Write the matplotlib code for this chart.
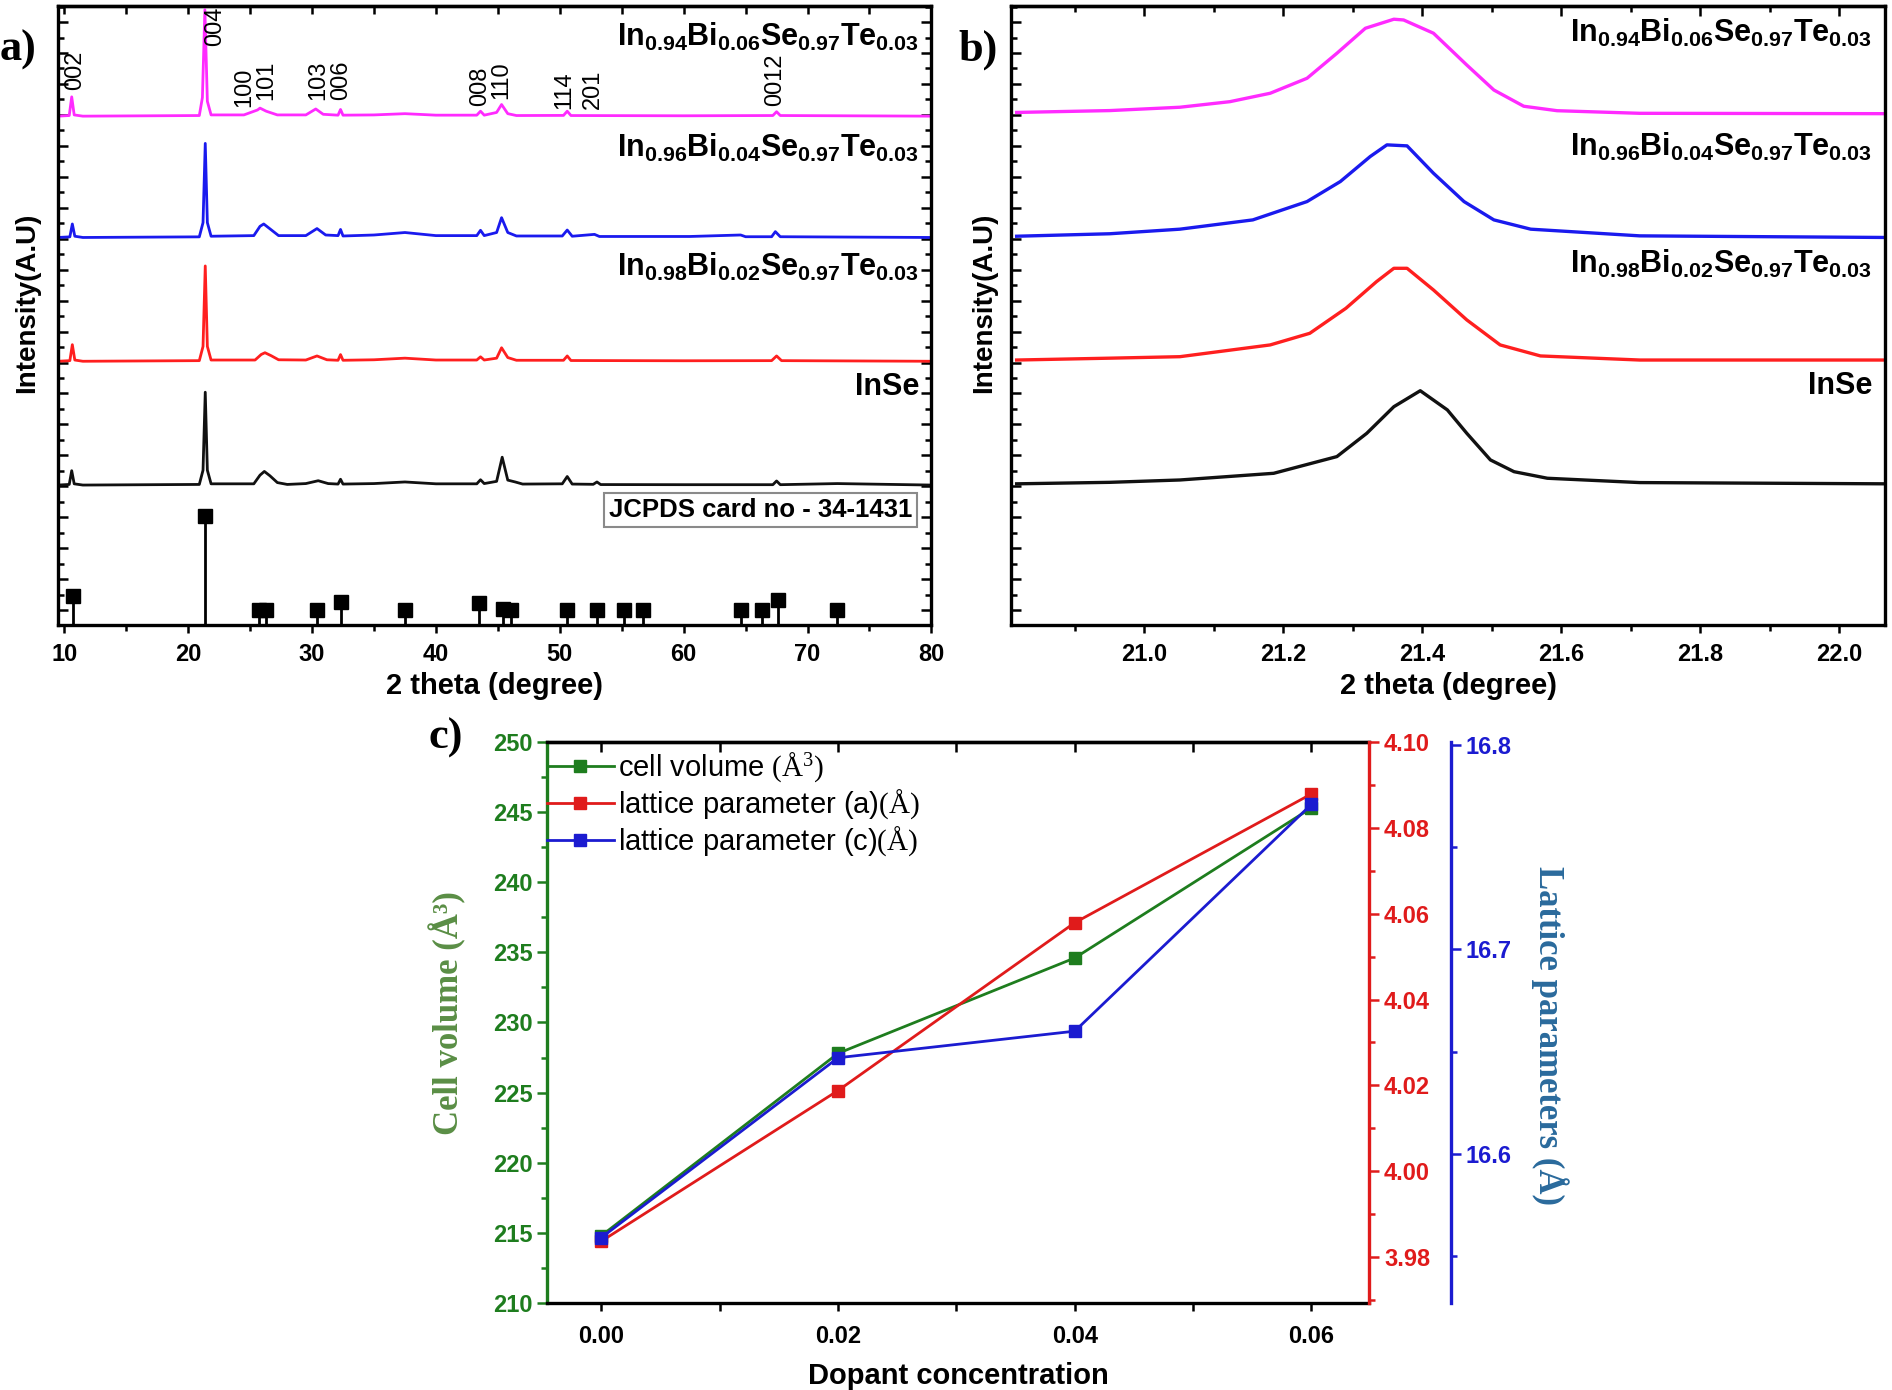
import numpy as np
import matplotlib
matplotlib.use("Agg")
import matplotlib.pyplot as plt
from matplotlib.ticker import MultipleLocator, FixedLocator

plt.rcParams['font.family'] = ['Liberation Sans', 'DejaVu Sans']
plt.rcParams['mathtext.fontset'] = 'custom'
plt.rcParams['mathtext.rm'] = 'Liberation Sans'
plt.rcParams['mathtext.bf'] = 'Liberation Sans:bold'
plt.rcParams['mathtext.sf'] = 'Liberation Serif'

# ---------------- data ----------------
sample_labels = [r'$\mathbf{In_{0.94}Bi_{0.06}Se_{0.97}Te_{0.03}}$',
                 r'$\mathbf{In_{0.96}Bi_{0.04}Se_{0.97}Te_{0.03}}$',
                 r'$\mathbf{In_{0.98}Bi_{0.02}Se_{0.97}Te_{0.03}}$',
                 'InSe']
sample_colors = ['#ff2bff', '#1a1aee', '#ff1f1f', '#111111']

# panel a: XRD patterns (2theta, intensity above own baseline)
tt_pink = [9.5, 10.4, 10.6, 10.8, 11.5, 20.9, 21.15, 21.35, 21.55, 21.85, 24.5, 25.6, 25.8, 26.3, 27.2,
           29.5, 30.3, 30.9, 32.1, 32.3, 32.5, 35, 37.5, 40, 43.3, 43.6, 43.9, 44.9, 45.3, 45.8, 46.5,
           50.3, 50.6, 50.9, 60, 67.2, 67.5, 67.8, 80]
i_pink = [0, 0.005, 0.156, 0.01, 0, 0.005, 0.15, 0.86, 0.12, 0.01, 0.01, 0.05, 0.065, 0.04, 0.01,
          0.01, 0.058, 0.015, 0.008, 0.054, 0.008, 0.01, 0.02, 0.008, 0.008, 0.04, 0.008, 0.03, 0.094, 0.02, 0.005,
          0.006, 0.04, 0.005, 0.003, 0.005, 0.036, 0.005, 0]

tt_blue = [9.5, 10.45, 10.65, 10.85, 11.5, 20.9, 21.2, 21.38, 21.55, 21.85, 25.3, 25.8, 26.1, 26.6, 27.3,
           29.5, 30.4, 31.1, 32.1, 32.3, 32.5, 35, 37.5, 40, 43.3, 43.6, 43.9, 44.9, 45.3, 45.8, 46.5,
           50.2, 50.6, 51, 52.8, 53.2, 60.5, 64.6, 65, 67.1, 67.4, 67.8, 80]
i_blue = [0, 0.005, 0.109, 0.01, 0, 0.005, 0.12, 0.76, 0.12, 0.01, 0.015, 0.09, 0.109, 0.07, 0.015,
          0.015, 0.072, 0.02, 0.015, 0.065, 0.012, 0.02, 0.04, 0.015, 0.015, 0.058, 0.015, 0.04, 0.16, 0.04, 0.012,
          0.012, 0.06, 0.01, 0.025, 0.008, 0.008, 0.02, 0.006, 0.006, 0.047, 0.006, 0]

tt_red = [9.5, 10.45, 10.65, 10.85, 11.5, 20.9, 21.2, 21.38, 21.55, 21.85, 25.4, 25.9, 26.2, 26.7, 27.3,
          29.5, 30.4, 31.2, 32.1, 32.3, 32.5, 35, 37.5, 40, 43.3, 43.6, 43.9, 44.9, 45.3, 45.8, 46.5,
          50.3, 50.6, 50.9, 60, 67.1, 67.5, 67.9, 80]
i_red = [0, 0.005, 0.134, 0.01, 0, 0.005, 0.12, 0.77, 0.12, 0.01, 0.01, 0.055, 0.069, 0.045, 0.012,
         0.01, 0.043, 0.012, 0.008, 0.054, 0.008, 0.012, 0.025, 0.01, 0.01, 0.036, 0.01, 0.025, 0.109, 0.03, 0.008,
         0.008, 0.043, 0.006, 0.004, 0.005, 0.043, 0.005, 0]

tt_black = [9.5, 10.4, 10.6, 10.8, 11.5, 20.9, 21.2, 21.38, 21.55, 21.85, 25.3, 25.8, 26.15, 26.6, 27.2, 28,
            29.5, 30.5, 31.3, 32.1, 32.3, 32.5, 35, 37.5, 40, 43.3, 43.6, 43.9, 44.9, 45.35, 45.8, 46.4, 47,
            50.2, 50.6, 51, 52.7, 53.0, 53.3, 60, 67.2, 67.5, 67.8, 72.4, 80]
i_black = [0, 0.005, 0.116, 0.01, 0, 0.005, 0.12, 0.75, 0.12, 0.01, 0.01, 0.08, 0.11, 0.075, 0.02, 0.005,
           0.012, 0.035, 0.012, 0.008, 0.047, 0.008, 0.012, 0.025, 0.01, 0.01, 0.043, 0.012, 0.03, 0.225, 0.04, 0.025, 0.008,
           0.01, 0.069, 0.008, 0.006, 0.025, 0.004, 0.003, 0.003, 0.033, 0.003, 0.012, 0]

offsets_a = [4.11, 3.13, 2.13, 1.13]

# JCPDS 34-1431 reference lines
jcpds_pos = [10.7, 21.35, 25.7, 26.3, 30.4, 32.3, 37.5, 43.5, 45.4, 46.1, 50.6, 53.0, 55.2, 56.7,
             64.6, 66.3, 67.6, 72.4]
jcpds_int = [0.234, 0.88, 0.124, 0.124, 0.124, 0.186, 0.124, 0.175, 0.13, 0.124, 0.124, 0.117, 0.117, 0.117,
             0.117, 0.117, 0.2, 0.117]

hkl_labels = ['002', '004', '100', '101', '103', '006', '008', '110', '114', '201', '0012']
hkl_pos = [10.87, 22.16, 24.5, 26.33, 30.47, 32.38, 43.55, 45.3, 50.4, 52.7, 67.4]
hkl_y = [4.32, 4.68, 4.18, 4.24, 4.24, 4.24, 4.19, 4.25, 4.17, 4.17, 4.19]

# panel b: zoom on the (004) peak
ttb_pink = [20.816, 20.95, 21.051, 21.123, 21.181, 21.234, 21.277, 21.318, 21.359, 21.373, 21.416,
            21.464, 21.503, 21.546, 21.594, 21.713, 22.066]
ib_pink = [0, 0.015, 0.042, 0.087, 0.155, 0.276, 0.478, 0.68, 0.753, 0.747, 0.64,
           0.383, 0.181, 0.05, 0.014, -0.007, -0.01]
ttb_blue = [20.816, 20.95, 21.051, 21.156, 21.234, 21.282, 21.325, 21.349, 21.378, 21.416, 21.46,
            21.503, 21.556, 21.713, 22.066]
ib_blue = [0, 0.02, 0.057, 0.132, 0.28, 0.442, 0.644, 0.738, 0.73, 0.509, 0.28,
           0.132, 0.057, 0.003, -0.01]
ttb_red = [20.816, 20.95, 21.051, 21.181, 21.238, 21.29, 21.334, 21.359, 21.378, 21.416, 21.464,
           21.512, 21.57, 21.713, 22.066]
ib_red = [0, 0.015, 0.027, 0.122, 0.216, 0.418, 0.633, 0.741, 0.741, 0.566, 0.324,
          0.122, 0.033, 0, 0]
ttb_black = [20.816, 20.95, 21.051, 21.186, 21.277, 21.32, 21.359, 21.397, 21.436, 21.464, 21.498,
             21.532, 21.58, 21.713, 22.066]
ib_black = [0, 0.012, 0.031, 0.085, 0.22, 0.408, 0.623, 0.752, 0.597, 0.408, 0.193,
            0.098, 0.045, 0.01, 0]
offsets_b = [4.14, 3.14, 2.14, 1.14]

# panel c: lattice data
dopant = [0.00, 0.02, 0.04, 0.06]
cell_volume = [214.8, 227.8, 234.6, 245.3]
lattice_a = [3.9837, 4.0188, 4.0579, 4.0879]
lattice_c = [16.559, 16.647, 16.660, 16.771]

# ---------------- figure ----------------
fig = plt.figure(figsize=(18.92, 13.90), dpi=100)


def style_stack(ax):
    for s in ax.spines.values():
        s.set_linewidth(2.4)
    ax.set_ylim(0, 5)
    ax.yaxis.set_major_locator(FixedLocator(np.arange(0.12, 5.0, 0.25)))
    ax.yaxis.set_minor_locator(FixedLocator(np.arange(0.245, 5.0, 0.25)))
    ax.tick_params(axis='y', which='both', direction='in', left=True, right=True,
                   labelleft=False, width=1.8)
    ax.tick_params(axis='y', which='major', length=7)
    ax.tick_params(axis='y', which='minor', length=4)
    ax.tick_params(axis='x', which='both', direction='out', width=1.8, labelsize=17, pad=7)
    ax.tick_params(axis='x', which='major', length=6)
    ax.tick_params(axis='x', which='minor', length=4)
    for lab in ax.get_xticklabels():
        lab.set_fontweight('bold')


# ---- panel a ----
axa = fig.add_axes([0.0307, 0.5504, 0.4616, 0.4453])
series_a = [(tt_pink, i_pink), (tt_blue, i_blue), (tt_red, i_red), (tt_black, i_black)]
for (tt, ii), off, col in zip(series_a, offsets_a, sample_colors):
    axa.plot(tt, np.array(ii) + off, color=col, lw=2)
ml, sl, bl = axa.stem(jcpds_pos, jcpds_int, linefmt='k-', markerfmt='ks', basefmt=' ')
ml.set_markersize(10)
sl.set_linewidth(2)
for lab, p, y in zip(hkl_labels, hkl_pos, hkl_y):
    axa.text(p, y, lab, rotation=90, ha='center', va='bottom', fontsize=17)
for lab, y in zip(sample_labels, [4.75, 3.85, 2.89, 1.92]):
    axa.text(0.986, y / 5, lab, transform=axa.transAxes, ha='right', va='center',
             fontsize=22, fontweight='bold')
axa.text(0.978, 0.186, 'JCPDS card no - 34-1431', transform=axa.transAxes, ha='right', va='center',
         fontsize=18.5, fontweight='bold',
         bbox=dict(boxstyle='square,pad=0.2', fc='white', ec='#8a8a8a', lw=1.5))
axa.set_xlim(9.5, 80)
axa.xaxis.set_major_locator(MultipleLocator(10))
axa.xaxis.set_minor_locator(MultipleLocator(5))
style_stack(axa)
top_a = axa.secondary_xaxis('top')
top_a.xaxis.set_major_locator(MultipleLocator(5))
top_a.tick_params(direction='in', length=6, width=1.8, labeltop=False)
top_a.spines['top'].set_linewidth(2.4)
axa.set_xlabel('2 theta (degree)', fontsize=21, fontweight='bold', labelpad=4)
axa.set_ylabel('Intensity(A.U)', fontsize=20, fontweight='bold')
axa.yaxis.set_label_coords(-0.02, 0.52)

# ---- panel b ----
axb = fig.add_axes([0.5344, 0.5504, 0.4619, 0.4453])
series_b = [(ttb_pink, ib_pink), (ttb_blue, ib_blue), (ttb_red, ib_red), (ttb_black, ib_black)]
for (tt, ii), off, col in zip(series_b, offsets_b, sample_colors):
    axb.plot(tt, np.array(ii) + off, color=col, lw=2.4)
for lab, y in zip(sample_labels, [4.78, 3.86, 2.92, 1.93]):
    axb.text(0.985, y / 5, lab, transform=axb.transAxes, ha='right', va='center',
             fontsize=22, fontweight='bold')
axb.set_xlim(20.808, 22.066)
axb.xaxis.set_major_locator(MultipleLocator(0.2))
axb.xaxis.set_minor_locator(MultipleLocator(0.1))
style_stack(axb)
axb.tick_params(axis='y', which='both', right=False)
top_b = axb.secondary_xaxis('top')
top_b.xaxis.set_major_locator(MultipleLocator(0.2))
top_b.xaxis.set_minor_locator(MultipleLocator(0.1))
top_b.tick_params(which='both', direction='in', width=1.8, labeltop=False)
top_b.tick_params(which='major', length=7)
top_b.tick_params(which='minor', length=4)
top_b.spines['top'].set_linewidth(2.4)
axb.set_xlabel('2 theta (degree)', fontsize=21, fontweight='bold', labelpad=4)
axb.set_ylabel('Intensity(A.U)', fontsize=20, fontweight='bold')
axb.yaxis.set_label_coords(-0.016, 0.52)

# ---- panel c ----
green, red, blue = '#1e7d1e', '#e01b1b', '#1b1bd0'
axc = fig.add_axes([0.2891, 0.0626, 0.4347, 0.4036])
axr = axc.twinx()
axl = axc.twinx()
axl.spines['right'].set_position(('outward', 59))

h1, = axc.plot(dopant, cell_volume, '-s', color=green, lw=2, ms=8, label='cell volume $\\mathsf{(Å^{3})}$')
h2, = axr.plot(dopant, lattice_a, '-s', color=red, lw=2, ms=8, label='lattice parameter (a)$\\mathsf{(Å)}$')
h3, = axl.plot(dopant, lattice_c, '-s', color=blue, lw=2, ms=8, label='lattice parameter (c)$\\mathsf{(Å)}$')

axc.set_xlim(-0.0046, 0.0649)
axc.set_ylim(210, 250)
axr.set_ylim(3.9693, 4.10)
axl.set_ylim(16.527, 16.8015)

axc.xaxis.set_major_locator(FixedLocator(dopant))
axc.xaxis.set_minor_locator(MultipleLocator(0.01))
axc.xaxis.set_major_formatter(plt.FormatStrFormatter('%.2f'))
axc.yaxis.set_major_locator(MultipleLocator(5))
axc.yaxis.set_minor_locator(MultipleLocator(2.5))
axr.yaxis.set_major_locator(MultipleLocator(0.02))
axr.yaxis.set_minor_locator(MultipleLocator(0.01))
axr.yaxis.set_major_formatter(plt.FormatStrFormatter('%.2f'))
axl.yaxis.set_major_locator(MultipleLocator(0.1))
axl.yaxis.set_minor_locator(MultipleLocator(0.05))

for s in axc.spines.values():
    s.set_linewidth(2.4)
axc.spines['left'].set_color(green)
axc.spines['right'].set_visible(False)
for ax in (axr, axl):
    for k in ('left', 'top', 'bottom'):
        ax.spines[k].set_visible(False)
axr.spines['right'].set_color(red)
axr.spines['right'].set_linewidth(2.4)
axl.spines['right'].set_color(blue)
axl.spines['right'].set_linewidth(2.4)

axc.tick_params(axis='x', which='both', direction='out', width=1.8, labelsize=17, pad=10)
axc.tick_params(axis='x', which='major', length=6)
axc.tick_params(axis='x', which='minor', length=6)
axc.tick_params(axis='y', which='both', direction='out', width=1.8, colors=green, labelsize=17)
axc.tick_params(axis='y', which='major', length=7)
axc.tick_params(axis='y', which='minor', length=4)
axr.tick_params(axis='y', which='both', direction='out', width=1.8, colors=red, labelsize=17)
axr.tick_params(axis='y', which='major', length=7)
axr.tick_params(axis='y', which='minor', length=4)
axl.tick_params(axis='y', which='both', direction='out', width=1.8, colors=blue, labelsize=17)
axl.tick_params(axis='y', which='major', length=7)
axl.tick_params(axis='y', which='minor', length=4)
for ax in (axc, axr, axl):
    for lab in ax.get_xticklabels() + ax.get_yticklabels():
        lab.set_fontweight('bold')

top_c = axc.secondary_xaxis('top')
top_c.xaxis.set_major_locator(MultipleLocator(0.01))
top_c.tick_params(direction='in', length=7, width=1.8, labeltop=False)
top_c.spines['top'].set_linewidth(2.4)

axc.set_xlabel('Dopant concentration', fontsize=21, fontweight='bold', labelpad=10)
axc.set_ylabel('Cell volume (Å³)', fontsize=25, fontweight='bold', family='Liberation Serif',
               color='#5a8e45')
axc.yaxis.set_label_coords(-0.098, 0.516)
fig.text(1550 / 1892, 1 - 1035 / 1390, 'Lattice parameters (Å)', rotation=270, ha='center', va='center',
         fontsize=25, fontweight='bold', family='Liberation Serif', color='#2a6a9c')

axc.legend(handles=[h1, h2, h3], loc='upper left', bbox_to_anchor=(-0.004, 0.99), frameon=False,
           fontsize=21, handlelength=2.3, handletextpad=0.15, labelspacing=0.12,
           borderaxespad=0.0, borderpad=0.1)

# panel letters
fig.text(0.0, 1 - 50 / 1390, 'a)', fontsize=32, fontweight='bold', family='Liberation Serif', va='center')
fig.text(958 / 1892, 1 - 50 / 1390, 'b)', fontsize=32, fontweight='bold', family='Liberation Serif', va='center')
fig.text(428 / 1892, 1 - 738 / 1390, 'c)', fontsize=32, fontweight='bold', family='Liberation Serif', va='center')

fig.savefig('out.png', dpi=100)
